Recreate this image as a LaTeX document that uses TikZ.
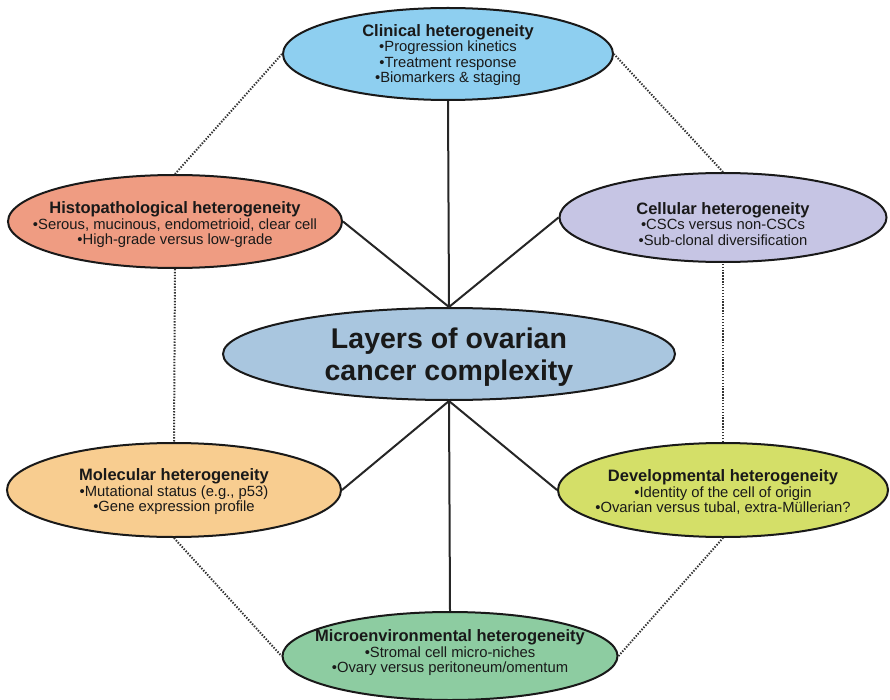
\documentclass[tikz,border=0pt]{standalone}
\usepackage{fontspec}
\setmainfont{Liberation Sans}
\usetikzlibrary{shapes.geometric}
\definecolor{cClin}{HTML}{8ECFF0}
\definecolor{cHist}{HTML}{EF9C82}
\definecolor{cCell}{HTML}{C6C5E4}
\definecolor{cCent}{HTML}{A9C6DF}
\definecolor{cMol}{HTML}{F8CD90}
\definecolor{cDev}{HTML}{D4DF68}
\definecolor{cMicro}{HTML}{8DCCA1}
\newcommand\hettitle[1]{{\fontsize{16.5}{18}\selectfont\bfseries #1}}
\begin{document}
\begin{tikzpicture}[x=1pt,y=-1pt,
  ell/.style={ellipse, draw=black!90, line width=2pt, inner sep=0pt},
  txt/.style={align=center, inner sep=0pt, text=black!90, font=\fontsize{14.8}{15.5}\selectfont},
  conn/.style={line width=2pt, draw=black!85},
  dots/.style={line width=2pt, draw=black!80, dash pattern=on 1.4pt off 1.5pt}
]
\useasboundingbox (0,0) rectangle (890,700);
% ellipses
\node[ell, fill=cClin, minimum width=330pt, minimum height=92pt] (clin) at (448,54) {};
\node[ell, fill=cHist, minimum width=334pt, minimum height=93pt] (hist) at (175,221.5) {};
\node[ell, fill=cCell, minimum width=327pt, minimum height=89pt] (cell) at (723,217.5) {};
\node[ell, fill=cCent, minimum width=452pt, minimum height=92pt] (cent) at (449,354) {};
\node[ell, fill=cMol, minimum width=334pt, minimum height=94pt] (mol) at (174,490) {};
\node[ell, fill=cDev, minimum width=330pt, minimum height=94pt] (dev) at (723,490) {};
\node[ell, fill=cMicro, minimum width=335pt, minimum height=88pt] (micro) at (450,656) {};
% solid connectors
\draw[conn] (cent.north) -- (clin.south);
\draw[conn] (cent.north) -- (hist.east);
\draw[conn] (cent.north) -- (cell.west);
\draw[conn] (cent.south) -- (mol.east);
\draw[conn] (cent.south) -- (dev.west);
\draw[conn] (cent.south) -- (micro.north);
% dotted connectors
\draw[dots] (clin.west) -- (hist.north);
\draw[dots] (hist.south) -- (mol.north);
\draw[dots] (mol.south) -- (micro.west);
\draw[dots] (micro.east) -- (dev.south);
\draw[dots] (dev.north) -- (cell.south);
\draw[dots] (cell.north) -- (clin.east);
% texts
\node[txt] (clint) at (448,55) {\hettitle{Clinical heterogeneity}\\•Progression kinetics\\•Treatment response\\•Biomarkers \& staging};
\node[txt] (histt) at (175,225) {\hettitle{Histopathological heterogeneity}\\•Serous, mucinous, endometrioid, clear cell\\•High-grade versus low-grade};
\node[txt] (cellt) at (723,224) {\hettitle{Cellular heterogeneity}\\•CSCs versus non-CSCs\\•Sub-clonal diversification};
\node[txt, font=\fontsize{28.5}{32}\selectfont\bfseries] (centt) at (449,357) {Layers of ovarian\\cancer complexity};
\node[txt] (molt) at (174,492) {\hettitle{Molecular heterogeneity}\\•Mutational status (e.g., p53)\\•Gene expression profile};
\node[txt] (devt) at (723,492) {\hettitle{Developmental heterogeneity}\\•Identity of the cell of origin\\•Ovarian versus tubal, extra-Müllerian?};
\node[txt] (microt) at (450,653) {\hettitle{Microenvironmental heterogeneity}\\•Stromal cell micro-niches\\•Ovary versus peritoneum/omentum};
\end{tikzpicture}
\end{document}
